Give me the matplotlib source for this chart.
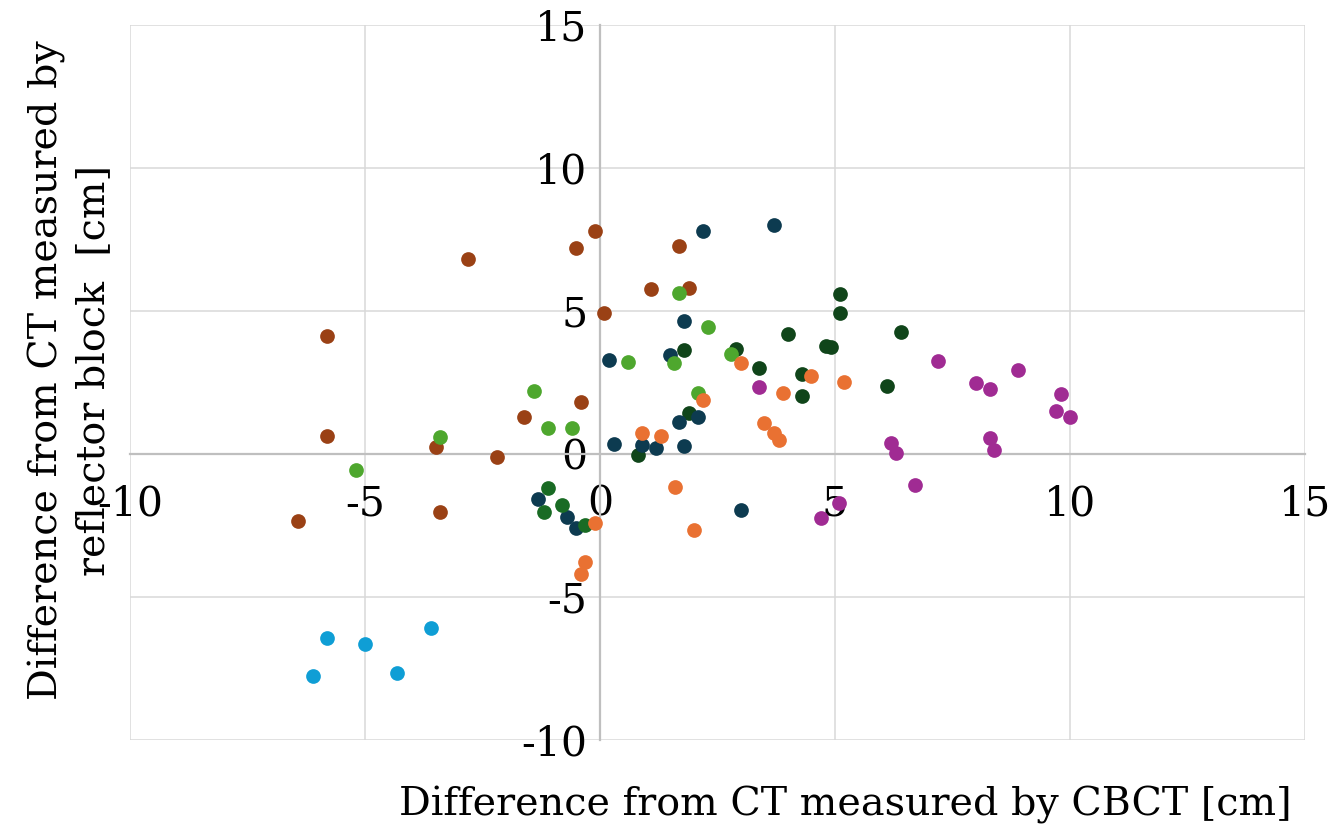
import matplotlib
matplotlib.use('Agg')
import matplotlib.pyplot as plt

# ---- data (x: CBCT diff, y: reflector block diff) ----
brown_x = [-6.42, -5.81, -5.81, -3.50, -3.40, -2.80, -2.20, -1.61, -0.52, -0.41, -0.10, 0.09, 1.09, 1.69, 1.89]
brown_y = [-2.35, 4.12, 0.62, 0.25, -2.02, 6.83, -0.09, 1.30, 7.20, 1.81, 7.80, 4.94, 5.76, 7.28, 5.80]

dkgreen_x = [0.80, 1.79, 1.89, 2.90, 3.39, 3.99, 4.29, 4.29, 4.80, 4.91, 5.10, 5.10, 6.40, 6.10]
dkgreen_y = [-0.02, 3.65, 1.45, 3.66, 3.02, 4.21, 2.78, 2.03, 3.77, 3.74, 5.59, 4.93, 4.27, 2.38]

navy_x = [0.20, 0.30, -1.31, -0.71, -0.51, 0.89, 1.19, 1.48, 1.79, 1.69, 2.09, 1.79, 2.19, 3.70, 2.99]
navy_y = [3.30, 0.36, -1.57, -2.20, -2.59, 0.31, 0.22, 3.45, 4.65, 1.13, 1.30, 0.29, 7.78, 7.99, -1.95]

green_x = [-1.11, -1.20, -0.80, -0.31]
green_y = [-1.19, -2.02, -1.79, -2.49]

ltgreen_x = [-5.20, -3.40, -1.40, -1.11, -0.60, 0.59, 1.58, 1.69, 2.29, 2.09, 2.79]
ltgreen_y = [-0.56, 0.60, 2.20, 0.92, 0.92, 3.22, 3.17, 5.62, 4.43, 2.13, 3.48]

orange_x = [-0.11, -0.31, -0.40, 0.89, 1.29, 1.59, 1.99, 2.19, 2.99, 3.49, 3.70, 3.80, 3.89, 4.49, 5.20]
orange_y = [-2.40, -3.78, -4.20, 0.73, 0.63, -1.16, -2.64, 1.90, 3.17, 1.07, 0.72, 0.48, 2.14, 2.73, 2.51]

purple_x = [3.39, 4.70, 5.09, 7.19, 6.19, 6.30, 6.70, 7.99, 8.30, 8.89, 8.29, 8.39, 9.80, 9.70, 9.99]
purple_y = [2.35, -2.24, -1.72, 3.24, 0.37, 0.03, -1.09, 2.48, 2.28, 2.95, 0.57, 0.15, 2.09, 1.49, 1.29]

ltblue_x = [-5.81, -6.11, -5.01, -4.31, -3.60]
ltblue_y = [-6.43, -7.75, -6.65, -7.64, -6.08]

x_ticks = [-10, -5, 0, 5, 10, 15]
y_ticks = [-10, -5, 0, 5, 10, 15]

plt.rcParams['font.family'] = ['DejaVu Serif']
plt.rcParams['axes.unicode_minus'] = False

fig = plt.figure(figsize=(13.32, 8.32), dpi=100)
ax = fig.add_axes([130/1332, 1-740/832, 1175/1332, 715/832])

series = [
    (brown_x, brown_y, '#9A4115'),
    (dkgreen_x, dkgreen_y, '#10451A'),
    (navy_x, navy_y, '#0D3B50'),
    (green_x, green_y, '#196B24'),
    (ltgreen_x, ltgreen_y, '#4EA72E'),
    (orange_x, orange_y, '#E97132'),
    (purple_x, purple_y, '#A02B93'),
    (ltblue_x, ltblue_y, '#0F9ED5'),
]
for i, (xs, ys, c) in enumerate(series):
    ax.scatter(xs, ys, s=112, color=c, linewidths=0, zorder=3 + i)

ax.set_xlim(-10, 15)
ax.set_ylim(-10, 15)
ax.set_xticks(x_ticks)
ax.set_yticks(y_ticks)
ax.grid(True, color='#D9D9D9', linewidth=1.1, zorder=0)
ax.set_axisbelow(True)

for side in ['top', 'right']:
    ax.spines[side].set_visible(False)
ax.spines['left'].set_position(('data', 0))
ax.spines['bottom'].set_position(('data', 0))
for side in ['left', 'bottom']:
    ax.spines[side].set_color('#BFBFBF')
    ax.spines[side].set_linewidth(1.6)
    ax.spines[side].set_zorder(1)
ax.tick_params(axis='both', length=0, labelsize=29.5)
ax.tick_params(axis='x', pad=22)
ax.tick_params(axis='y', pad=9)

fig.text(70/1332, 1-370/832, 'Difference from CT measured by\nreflector block  [cm]',
         rotation=90, ha='center', va='center', fontsize=28.5, linespacing=1.3)
fig.text(845/1332, 1-805/832, 'Difference from CT measured by CBCT [cm]',
         ha='center', va='center', fontsize=28.5)

fig.savefig('out.png', dpi=100)
